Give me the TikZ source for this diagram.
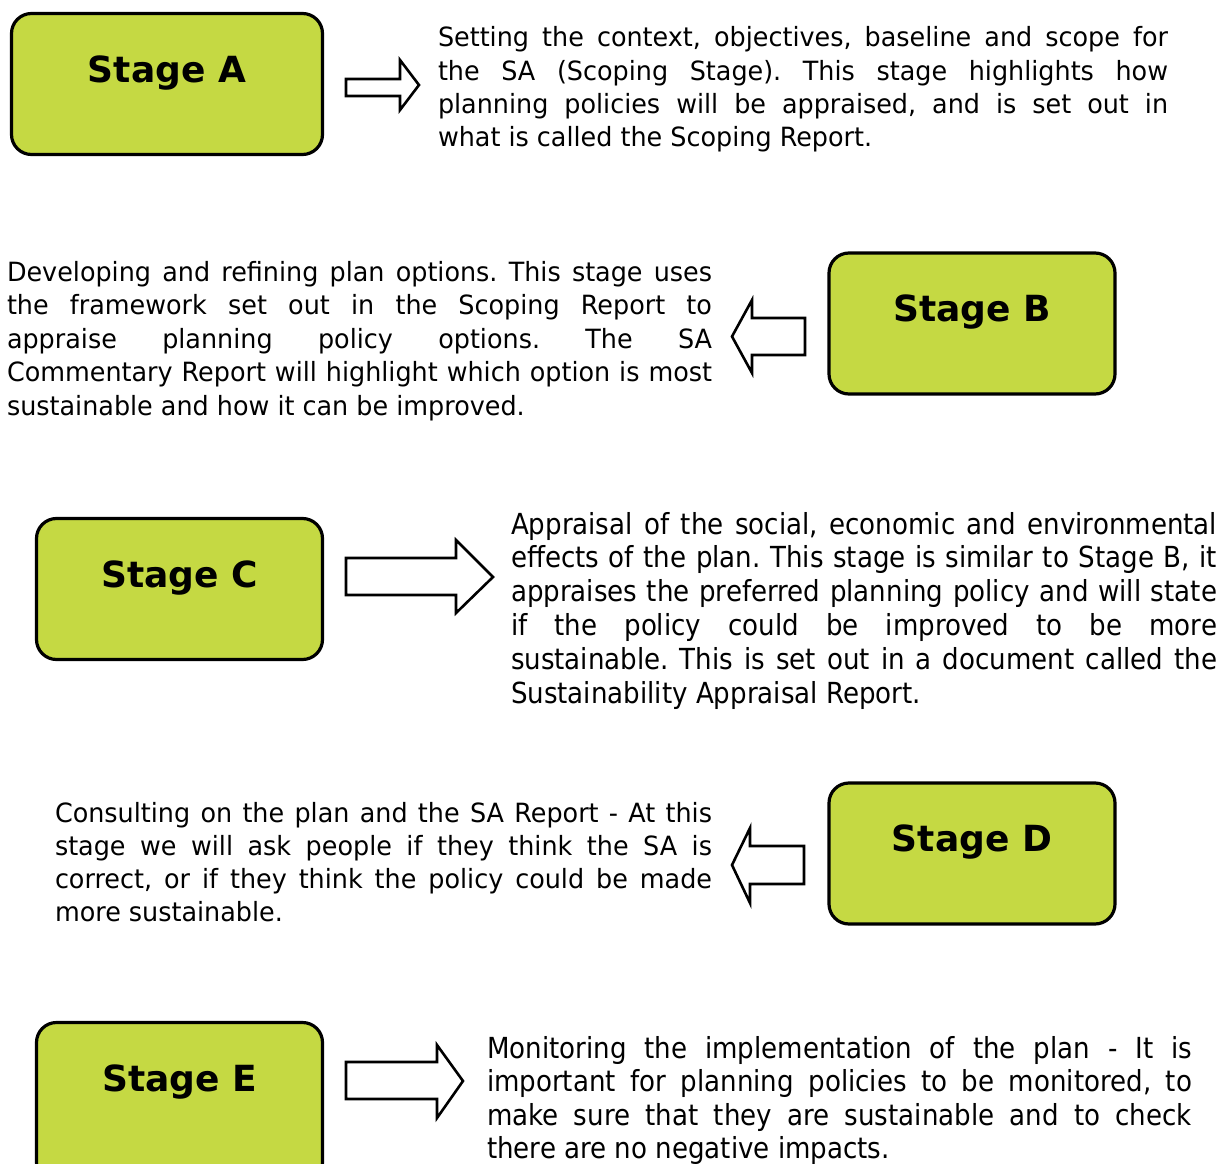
\documentclass[tikz,border=0pt]{standalone}
\usepackage{fontspec}
\setmainfont{DejaVu Sans}
\newfontfamily\bodyfont[FakeStretch=0.96]{DejaVu Sans}
\newfontfamily\condfont[FakeStretch=0.9]{DejaVu Sans}
\usepackage{graphicx}
\definecolor{stagegreen}{RGB}{197,217,67}
\newlength\jlw
\newcommand\jline[2]{\settowidth\jlw{#2}\ifdim\jlw>#1\relax\resizebox{#1}{\height}{#2}\else\makebox[#1][s]{#2}\fi}
\newcommand\lline[2]{\settowidth\jlw{#2}\ifdim\jlw>#1\relax\resizebox{#1}{\height}{#2}\else #2\fi}
\tikzset{
  stagebox/.style={draw=black, line width=3.2pt, fill=stagegreen, rounded corners=20pt,
    minimum width=286pt, minimum height=141pt, inner sep=0pt},
  stagelabel/.style={anchor=base, inner sep=0pt, font=\fontsize{36}{40}\selectfont\bfseries, yshift=2pt},
  blockarrow/.style={draw=black, line width=2.6pt, fill=white, line join=miter},
  para/.style={anchor=base west, inner sep=0pt, outer sep=0pt},
}
\begin{document}
\frenchspacing
\begin{tikzpicture}[x=1pt,y=-1pt]
\useasboundingbox (0,0) rectangle (1227,1164);
\fill[white] (0,0) rectangle (1227,1164);

% boxes
\node[stagebox, minimum width=311pt] (A) at (167,84) {};
\node[stagelabel] (Alab) at (A.center) {Stage A};
\node[stagebox] (B) at (972,323.5) {};
\node[stagelabel] (Blab) at (B.center) {Stage B};
\node[stagebox] (C) at (179.5,589) {};
\node[stagelabel] (Clab) at (C.center) {Stage C};
\node[stagebox] (D) at (972,853.5) {};
\node[stagelabel] (Dlab) at (D.center) {Stage D};
\node[stagebox, minimum height=160pt] (E) at (179.5,1102.5) {};
\node[stagelabel] (Elab) at (179.5,1093) {Stage E};

% block arrows
\draw[blockarrow] (346,79) -- (400,79) -- (400,60) -- (419,85) -- (400,110) -- (400,96) -- (346,96) -- cycle;
\draw[blockarrow] (805,318) -- (752,318) -- (752,300) -- (732,336.5) -- (752,373) -- (752,355) -- (805,355) -- cycle;
\draw[blockarrow] (346,558) -- (456,558) -- (456,540) -- (493,577) -- (456,613) -- (456,595) -- (346,595) -- cycle;
\draw[blockarrow] (804,846) -- (750,846) -- (750,828) -- (732,865) -- (750,903) -- (750,884) -- (804,884) -- cycle;
\draw[blockarrow] (346,1062) -- (437,1062) -- (437,1045) -- (463,1081) -- (437,1118) -- (437,1099) -- (346,1099) -- cycle;

% texts
\node[para] (tA) at (438,47) {\parbox[t]{730pt}{\bodyfont\fontsize{26.5}{33.3}\selectfont
\jline{730pt}{Setting the context, objectives, baseline and scope for}\\
\jline{730pt}{the SA (Scoping Stage). This stage highlights how}\\
\jline{730pt}{planning policies will be appraised, and is set out in}\\
\lline{730pt}{what is called the Scoping Report.}}};

\node[para] (tB) at (7,281) {\parbox[t]{705pt}{\bodyfont\fontsize{26.5}{33.5}\selectfont
\jline{705pt}{Developing and refining plan options. This stage uses}\\
\jline{705pt}{the framework set out in the Scoping Report to}\\
\jline{705pt}{appraise planning policy options. The SA}\\
\jline{705pt}{Commentary Report will highlight which option is most}\\
\lline{705pt}{sustainable and how it can be improved.}}};

\node[para] (tC) at (511,534) {\parbox[t]{706pt}{\condfont\fontsize{29}{33.8}\selectfont
\jline{706pt}{Appraisal of the social, economic and environmental}\\
\jline{706pt}{effects of the plan. This stage is similar to Stage B, it}\\
\jline{706pt}{appraises the preferred planning policy and will state}\\
\jline{706pt}{if the policy could be improved to be more}\\
\jline{706pt}{sustainable. This is set out in a document called the}\\
\lline{706pt}{Sustainability Appraisal Report.}}};

\node[para] (tD) at (55,822) {\parbox[t]{657pt}{\bodyfont\fontsize{26.5}{33}\selectfont
\jline{657pt}{Consulting on the plan and the SA Report - At this}\\
\jline{657pt}{stage we will ask people if they think the SA is}\\
\jline{657pt}{correct, or if they think the policy could be made}\\
\lline{657pt}{more sustainable.}}};

\node[para] (tE) at (487,1058) {\parbox[t]{705pt}{\condfont\fontsize{29}{33.5}\selectfont
\jline{705pt}{Monitoring the implementation of the plan - It is}\\
\jline{705pt}{important for planning policies to be monitored, to}\\
\jline{705pt}{make sure that they are sustainable and to check}\\
\lline{705pt}{there are no negative impacts.}}};
\end{tikzpicture}
\end{document}
